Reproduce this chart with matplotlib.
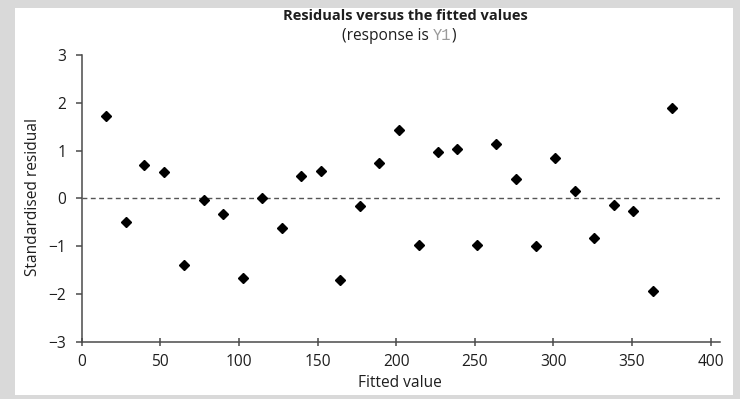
import matplotlib
matplotlib.use("Agg")
import matplotlib.pyplot as plt
from matplotlib.patches import Rectangle

# Residuals of the fitted model, ordered by fitted value
fitted = [15.5, 28.0, 39.8, 52.6, 64.9, 77.8, 89.9, 102.4, 114.7, 127.3,
          139.7, 152.3, 164.6, 177.1, 189.4, 202.1, 214.4, 226.9, 239.0, 251.6,
          263.8, 276.2, 288.9, 301.0, 313.9, 326.0, 338.5, 350.8, 363.3, 375.6]
std_resid = [1.72, -0.49, 0.70, 0.56, -1.39, -0.04, -0.33, -1.66, 0.01, -0.63,
             0.47, 0.58, -1.71, -0.17, 0.74, 1.43, -0.97, 0.97, 1.03, -0.98,
             1.14, 0.40, -0.99, 0.85, 0.16, -0.84, -0.13, -0.26, -1.93, 1.90]

x_ticks = [0, 50, 100, 150, 200, 250, 300, 350, 400]
y_ticks = [-3, -2, -1, 0, 1, 2, 3]
y_tick_labels = ["\u22123", "\u22122", "\u22121", "0", "1", "2", "3"]

title = "Residuals versus the fitted values"
subtitle_parts = ["(response is ", "Y1", ")"]
x_label = "Fitted value"
y_label = "Standardised residual"

W, H = 740, 399
DPI = 100
font = "Open Sans"
fs = 11.2
text_col = "#1e1e1e"
axis_col = "#4a4a4a"

fig = plt.figure(figsize=(W / DPI, H / DPI), dpi=DPI)
fig.patch.set_facecolor("#d9d9d9")

# white card behind the plot
fig.patches.append(Rectangle((15 / W, 1 - 395 / H), (733 - 15) / W, (395 - 8) / H,
                             transform=fig.transFigure, facecolor="white",
                             edgecolor="none", zorder=-10))

ax = fig.add_axes([81.7 / W, 1 - 341.7 / H, (720 - 81.7) / W, (341.7 - 55) / H])
ax.set_zorder(2)
ax.set_facecolor("none")
ax.set_xlim(0, 406)
ax.set_ylim(-3, 3)

ax.axhline(0, color="#555555", lw=1.0, ls=(0, (3.5, 2.5)), zorder=1)
ax.plot(fitted, std_resid, ls="none", marker="D", ms=4.9, color="black", zorder=3)

for s in ["top", "right"]:
    ax.spines[s].set_visible(False)
for s in ["left", "bottom"]:
    ax.spines[s].set_color(axis_col)
    ax.spines[s].set_linewidth(1.1)

ax.set_xticks(x_ticks)
ax.set_xticklabels([str(v) for v in x_ticks], fontfamily=font, fontsize=fs, color=text_col)
ax.set_yticks(y_ticks)
ax.set_yticklabels(y_tick_labels, fontfamily=font, fontsize=fs, color=text_col)
ax.tick_params(axis="x", direction="inout", length=6, width=1.1, color=axis_col, pad=5.5)
ax.tick_params(axis="y", direction="out", length=4, width=1.1, color=axis_col, pad=7)

fig.text(400 / W, 1 - 383 / H, x_label, ha="center", va="center",
         fontfamily=font, fontsize=fs, color=text_col)
fig.text(33 / W, 1 - 197.5 / H, y_label, ha="center", va="center", rotation=90,
         fontfamily=font, fontsize=fs, color=text_col)

fig.text(405 / W, 1 - 16.5 / H, title, ha="center", va="center",
         fontfamily=font, fontweight="bold", fontsize=10.5, color=text_col)

# subtitle with the response name in a monospace face
fig.canvas.draw()
renderer = fig.canvas.get_renderer()
styles = [dict(fontfamily=font, color=text_col),
          dict(fontfamily="Liberation Mono", color="#9a9a9a"),
          dict(fontfamily=font, color=text_col)]
pieces = []
for txt, st in zip(subtitle_parts, styles):
    t = fig.text(0, 1 - 35.5 / H, txt, ha="left", va="center", fontsize=fs, **st)
    pieces.append(t)
widths = [p.get_window_extent(renderer).width for p in pieces]
x0 = 399 - sum(widths) / 2
for p, w in zip(pieces, widths):
    p.set_x(x0 / W)
    x0 += w

fig.savefig("out.png", dpi=DPI, facecolor=fig.get_facecolor())
